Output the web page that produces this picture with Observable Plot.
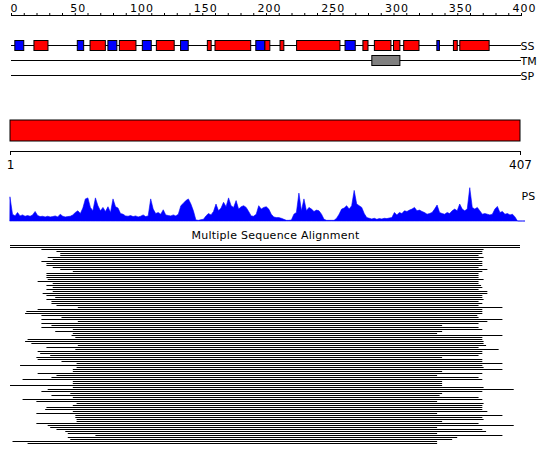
<!DOCTYPE html>
<html><head><meta charset="utf-8">
<script src="https://cdn.jsdelivr.net/npm/d3@7"></script>
<script src="https://cdn.jsdelivr.net/npm/@observablehq/plot@0.6"></script>
<style>
body{margin:0;background:#fff;}
#chart{position:relative;width:550px;height:465px;overflow:hidden;background:#fff;}
#chart svg{position:absolute;left:0;overflow:visible;}
</style></head><body><div id="chart"></div>
<script>
// ---------- data ----------
const tracks = ["SS", "TM", "SP"];
const axisMajorTicks = [0, 50, 100, 150, 200, 250, 300, 350, 400];
const axisMinorTicks = d3.range(0, 401, 10);

const helixStart = [18, 62, 85, 114, 154, 160, 199, 211, 224, 276, 285, 300, 308, 347, 352];
const helixEnd   = [29, 74, 98, 128, 157, 188, 203, 214, 258, 280, 298, 305, 320, 350, 375];
const strandStart = [3, 52, 76, 103, 133, 192, 262, 334];
const strandEnd   = [10, 57, 83, 110, 139, 199, 270, 336];
const tmStart = [283];
const tmEnd   = [305];

const seqLength = 407;
const rulerTicks = [1, 407];

// PS profile, one value every 2 residues starting at residue 1
const profileStep = 2;
const profileValues = [
 70,20,15,25,15,18,14,16,14,18,28,16,13,14,12,14,12,13,15,12,
 20,14,12,13,14,18,25,30,22,38,65,68,40,30,68,45,30,40,28,42,
 25,65,42,38,22,20,15,14,16,13,15,12,14,18,13,15,65,35,22,25,
 20,33,18,16,15,18,15,20,45,52,60,65,50,30,3,2,4,5,15,22,
 18,28,50,30,38,55,42,68,45,40,60,35,42,45,40,28,15,14,20,45,
 35,40,42,35,20,12,10,10,8,5,2,2,3,20,25,82,30,65,30,40,
 35,28,32,30,20,5,2,2,2,2,8,20,35,38,45,35,45,90,50,45,
 40,22,10,8,6,8,5,7,6,8,7,9,10,25,18,25,22,30,28,32,
 35,40,30,32,28,25,20,22,25,35,47,25,22,20,25,22,30,35,30,50,
 35,30,35,98,40,35,40,30,20,22,20,18,20,35,43,25,28,20,22,18,
 20,12,0,0,0,0
];

// Multiple sequence alignment: aligned start / end residue of each hit
const msaStart = [
 1,1,26,38,41,41,31,35,26,30,30,35,41,51,30,30,30,31,23,35,
 30,35,30,35,27,30,37,30,34,34,38,55,23,14,13,26,42,26,55,26,
 34,26,51,37,51,50,53,15,13,18,
 55,30,53,23,25,33,22,23,42,54,9,54,51,51,23,38,34,11,51,51,
 1,51,31,26,49,34,51,11,22,54,51,30,29,51,22,53,53,54,54,22,
 31,33,38,45,47,69,47,49,3,15
];
const msaEnd = [
 407,407,378,377,377,374,378,374,377,377,377,374,381,377,374,374,374,378,374,374,
 376,377,374,381,381,377,377,378,374,377,374,393,377,377,377,373,374,393,381,374,
 345,374,377,345,341,393,377,377,378,378,
 380,374,390,377,377,374,345,377,377,393,377,378,393,345,377,341,374,377,345,345,
 345,378,402,377,345,343,374,377,341,378,377,377,377,381,341,393,377,378,345,374,
 402,341,377,380,341,393,357,353,341,341
];

// ---------- tables built from the arrays ----------
const helices = helixStart.map((s, i) => ({start: s, end: helixEnd[i], track: "SS"}));
const strands = strandStart.map((s, i) => ({start: s, end: strandEnd[i], track: "SS"}));
const tms = tmStart.map((s, i) => ({start: s, end: tmEnd[i], track: "TM"}));
const profile = profileValues.map((v, i) => ({pos: 1 + i * profileStep, value: v}));
const msa = msaStart.map((s, i) => ({row: i, start: s, end: msaEnd[i]}));

const font = {fontFamily: "DejaVu Sans", fontSize: "11px", color: "black", background: "transparent"};
const chart = document.getElementById("chart");
function place(svg, top) { svg.style.top = top + "px"; chart.appendChild(svg); return svg; }

// ---------- A: top ruler and SS / TM / SP tracks ----------
const A = Plot.plot({
  width: 550, height: 86,
  marginTop: 15, marginLeft: 11, marginRight: 29, marginBottom: 0,
  style: font,
  x: {domain: [0, 400], label: null},
  y: {type: "band", domain: tracks, range: [38, 83], padding: 0, axis: null},
  marks: [
    Plot.frame({anchor: "top", stroke: "black"}),
    Plot.axisX({anchor: "top", ticks: axisMinorTicks, tickSize: 3, tickFormat: () => "", label: null}),
    Plot.axisX({anchor: "top", ticks: axisMajorTicks, tickSize: 0, tickPadding: 4, dx: 3, fontSize: 11, label: null}),
    Plot.barX(tracks, {x1: 0, x2: 400, y: d => d, fill: "black", insetTop: 7, insetBottom: 7}),
    Plot.barX(helices, {x1: "start", x2: "end", y: "track", fill: "#ff0000", stroke: "black", strokeWidth: 1, insetTop: 2.5, insetBottom: 2.5}),
    Plot.barX(strands, {x1: "start", x2: "end", y: "track", fill: "#0000ff", stroke: "black", strokeWidth: 1, insetTop: 2.5, insetBottom: 2.5}),
    Plot.barX(tms, {x1: "start", x2: "end", y: "track", fill: "#808080", stroke: "black", strokeWidth: 1, insetTop: 2.5, insetBottom: 2.5}),
    Plot.text(tracks, {y: d => d, text: d => d, frameAnchor: "right", textAnchor: "start", dx: -1, fontSize: 11, fill: "black"})
  ]
});
A.querySelectorAll('g[aria-label="x-axis tick label"] text').forEach(t => t.style.letterSpacing = "1px");
place(A, 0);

// ---------- B: sequence bar and residue ruler ----------
const B = Plot.plot({
  width: 550, height: 70,
  marginTop: 10, marginLeft: 10, marginRight: 30, marginBottom: 29,
  style: font,
  x: {domain: [1, seqLength], label: null},
  y: {domain: [0, 1], range: [31, 10], axis: null},
  marks: [
    Plot.rect([{start: 1, end: seqLength}], {x1: "start", x2: "end", y1: 0, y2: 1, fill: "#ff0000", stroke: "black", strokeWidth: 1}),
    Plot.frame({anchor: "bottom", stroke: "black"}),
    Plot.axisX({anchor: "bottom", ticks: rulerTicks, tickSize: 4, tickPadding: 5, fontSize: 12, label: null})
  ]
});
place(B, 110);

// ---------- C: PS profile ----------
const C = Plot.plot({
  width: 550, height: 46,
  marginTop: 16, marginLeft: 10, marginRight: 30, marginBottom: 5,
  style: font,
  x: {domain: [1, seqLength], axis: null},
  y: {domain: [0, 100], range: [41, 7], axis: null},
  marks: [
    Plot.areaY(profile, {x: "pos", y: "value", fill: "#0000ff", stroke: "#0000ff", strokeWidth: 0.6}),
    Plot.text(["PS"], {frameAnchor: "top-right", textAnchor: "start", lineAnchor: "middle", dx: 1, fontSize: 11, fill: "black"})
  ]
});
place(C, 180);

// ---------- D: multiple sequence alignment ----------
const D = Plot.plot({
  width: 550, height: 225,
  marginTop: 3, marginLeft: 10, marginRight: 30, marginBottom: 0,
  style: font,
  x: {domain: [1, seqLength], axis: null},
  y: {type: "band", domain: d3.range(msa.length), range: [16, 16 + 2 * msa.length], padding: 0, axis: null},
  marks: [
    Plot.barX(msa, {x1: "start", x2: "end", y: "row", fill: "black", insetTop: 1, insetBottom: 0}),
    Plot.text(["Multiple Sequence Alignment"], {frameAnchor: "top", lineAnchor: "top", dx: 10, fontSize: 11, fill: "black"})
  ]
});
D.querySelectorAll('g[aria-label="text"] text').forEach(t => t.style.letterSpacing = "0.25px");
place(D, 228);
</script>
</body></html>
